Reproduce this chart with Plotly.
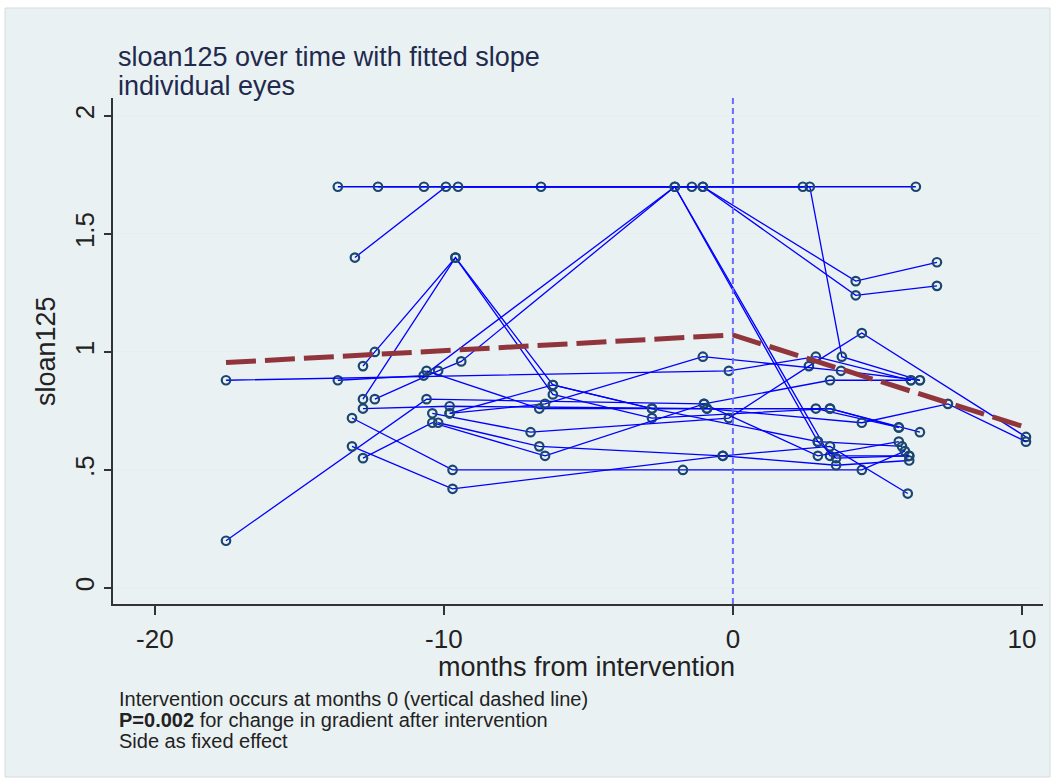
import plotly.graph_objects as go

# ---- data: individual eyes (months from intervention, sloan125) ----
eye_months = [
    [-13.67, -6.64, 6.33],
    [-12.28, -10.69, -1.42, 2.42],
    [-13.08, -9.93, 2.66, 3.77, 6.47],
    [-9.51, -1.04, 4.25, 7.06],
    [-1.04, 4.25, 7.06],
    [-12.80, -12.39, -9.60, -6.23, -2.80, 2.87, 5.74],
    [-12.80, -9.60, -6.23, -2.80, 3.36, 6.47],
    [-12.39, -10.20, -9.40, -2.01, 3.36, 6.10],
    [-13.67, -10.70, -2.01, 2.94, 5.85],
    [-17.54, -0.14, 2.87, 6.16],
    [-17.54, -10.60, -1.00, 3.36, 6.16],
    [-10.40, -7.00, -0.14, 2.63, 4.46, 10.14],
    [-12.80, -9.80, -0.90, 4.46, 7.44, 10.14],
    [-13.18, -9.70, -1.73, 4.46, 5.95],
    [-13.18, -9.70, -0.35, 3.57, 6.10],
    [-12.80, -10.40, -6.50, -1.00, 2.94, 5.74],
    [-10.20, -6.70, -0.35, 3.36, 6.05],
    [-9.80, -6.50, -1.04, 3.74, 6.47],
    [-10.60, -6.70, -0.90, 3.36, 5.74],
    [-9.80, -6.23, -2.80, 2.94, 3.57, 6.10],
]
eye_values = [
    [1.70, 1.70, 1.70],
    [1.70, 1.70, 1.70, 1.70],
    [1.40, 1.70, 1.70, 0.98, 0.88],
    [1.70, 1.70, 1.30, 1.38],
    [1.70, 1.24, 1.28],
    [0.94, 1.00, 1.40, 0.86, 0.76, 0.76, 0.68],
    [0.80, 1.40, 0.82, 0.72, 0.76, 0.66],
    [0.80, 0.92, 0.96, 1.70, 0.56, 0.56],
    [0.88, 0.90, 1.70, 0.62, 0.60],
    [0.88, 0.92, 0.98, 0.88],
    [0.20, 0.80, 0.78, 0.88, 0.88],
    [0.74, 0.66, 0.72, 0.94, 1.08, 0.64],
    [0.76, 0.77, 0.76, 0.70, 0.78, 0.62],
    [0.72, 0.50, 0.50, 0.50, 0.58],
    [0.60, 0.42, 0.56, 0.52, 0.54],
    [0.55, 0.70, 0.56, 0.78, 0.56, 0.62],
    [0.70, 0.60, 0.56, 0.60, 0.40],
    [0.74, 0.78, 0.98, 0.92, 0.88],
    [0.92, 0.76, 0.76, 0.76, 0.68],
    [0.74, 0.86, 0.76, 0.62, 0.55, 0.56],
]

# fitted piecewise slope
fit_months = [-17.54, 0.0, 10.14]
fit_values = [0.955, 1.072, 0.68]

x_ticks = [-20, -10, 0, 10]
x_tick_labels = ["-20", "-10", "0", "10"]
y_ticks = [0, 0.5, 1, 1.5, 2]
y_tick_labels = ["0", ".5", "1", "1.5", "2"]

title_lines = ["sloan125 over time with fitted slope", "individual eyes"]
note_lines = [
    "Intervention occurs at months 0 (vertical dashed line)",
    "<b>P=0.002</b> for change in gradient after intervention",
    "Side as fixed effect",
]

FONT = "Liberation Sans, Arial, Helvetica, sans-serif"
BLUE = "#0000ff"
NAVY = "#1a476f"
CRANBERRY = "#90353b"
PANEL = "#eaf1f3"
TXT = "#222222"

fig = go.Figure()

for mx, vy in zip(eye_months, eye_values):
    fig.add_trace(go.Scatter(
        x=mx, y=vy, mode="lines+markers",
        line=dict(color=BLUE, width=1.3),
        marker=dict(symbol="circle-open", color=NAVY, size=8.5, line=dict(width=2.2, color=NAVY)),
        showlegend=False, hoverinfo="x+y",
    ))

fig.add_trace(go.Scatter(
    x=fit_months, y=fit_values, mode="lines",
    line=dict(color=CRANBERRY, width=5, dash="30px,9px"),
    showlegend=False,
))

L, R, T, B = 113, 20, 98, 174
W, H = 1063, 778
pw, ph = W - L - R, H - T - B

def px_x(p):
    return (p - L) / pw

def px_y(p):
    return (H - B - p) / ph

annotations = []
for txt, yc in zip(title_lines, [57, 86]):
    annotations.append(dict(
        text=txt, xref="paper", yref="paper", x=px_x(116), y=px_y(yc),
        xanchor="left", yanchor="middle", showarrow=False,
        font=dict(size=27, color="#1f2a4d", family=FONT)))
for txt, yc in zip(note_lines, [699, 720, 741]):
    annotations.append(dict(
        text=txt, xref="paper", yref="paper", x=px_x(117), y=px_y(yc),
        xanchor="left", yanchor="middle", showarrow=False,
        font=dict(size=20, color=TXT, family=FONT)))
annotations.append(dict(
    text="months from intervention", xref="paper", yref="paper",
    x=px_x(586), y=px_y(667), xanchor="center", yanchor="middle",
    showarrow=False, font=dict(size=27, color=TXT, family=FONT)))
annotations.append(dict(
    text="sloan125", xref="paper", yref="paper", textangle=-90,
    x=px_x(46), y=px_y(351), xanchor="center", yanchor="middle",
    showarrow=False, font=dict(size=27, color=TXT, family=FONT)))

fig.update_layout(
    width=W, height=H,
    margin=dict(l=L, r=R, t=T, b=B, autoexpand=False),
    paper_bgcolor="white",
    plot_bgcolor="white",
    font=dict(family=FONT, color=TXT),
    shapes=[
        dict(type="rect", xref="paper", yref="paper", layer="below",
             x0=px_x(5), x1=px_x(1050), y0=px_y(777), y1=px_y(8),
             fillcolor=PANEL, line=dict(color="#d5dcdf", width=1)),
        dict(type="line", xref="x", yref="paper", layer="above",
             x0=0, x1=0, y0=0, y1=1,
             line=dict(color="#6b6bff", width=2, dash="6px,4px")),
    ],
    annotations=annotations,
)

fig.update_xaxes(
    range=[-21.45, 10.73], tickvals=x_ticks, ticktext=x_tick_labels,
    showgrid=False, zeroline=False, showline=True, linecolor="#333333", linewidth=1.5,
    ticks="outside", ticklen=9, tickwidth=1.5, tickcolor="#333333",
    tickfont=dict(size=26, color=TXT, family=FONT), ticklabelstandoff=2,
)
fig.update_yaxes(
    range=[-0.068, 2.076], tickvals=y_ticks, ticktext=y_tick_labels,
    showgrid=True, gridcolor="#e6eef0", gridwidth=1.3, zeroline=False,
    showline=True, linecolor="#333333", linewidth=1.5,
    ticks="outside", ticklen=7, tickwidth=1.5, tickcolor="#333333",
    tickangle=-90, tickfont=dict(size=26, color=TXT, family=FONT),
)

fig.write_html("out.html")
